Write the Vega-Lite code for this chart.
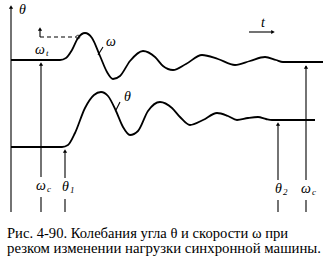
{
  "$schema": "https://vega.github.io/schema/vega-lite/v6.json",
  "width": 329,
  "height": 262,
  "padding": 0,
  "autosize": {"type": "fit", "contains": "padding"},
  "background": "white",
  "config": {"view": {"stroke": null}},
  "datasets": {
    "omega": [
      {"x": 11, "y": 60}, {"x": 60, "y": 60}, {"x": 66, "y": 58}, {"x": 72, "y": 50}, {"x": 78, "y": 38},
      {"x": 85, "y": 33}, {"x": 92, "y": 38}, {"x": 100, "y": 56}, {"x": 107, "y": 72}, {"x": 113, "y": 79},
      {"x": 120, "y": 76}, {"x": 130, "y": 61}, {"x": 143, "y": 51}, {"x": 155, "y": 57}, {"x": 163, "y": 66},
      {"x": 173, "y": 70}, {"x": 186, "y": 64}, {"x": 202, "y": 55}, {"x": 218, "y": 59}, {"x": 235, "y": 65},
      {"x": 250, "y": 61}, {"x": 265, "y": 57}, {"x": 276, "y": 60}, {"x": 283, "y": 62}, {"x": 323, "y": 62}
    ],
    "theta": [
      {"x": 11, "y": 147}, {"x": 62, "y": 147}, {"x": 68, "y": 145}, {"x": 75, "y": 133}, {"x": 85, "y": 108},
      {"x": 94, "y": 95}, {"x": 101, "y": 92}, {"x": 108, "y": 96}, {"x": 116, "y": 111}, {"x": 123, "y": 127},
      {"x": 130, "y": 135}, {"x": 138, "y": 131}, {"x": 148, "y": 111}, {"x": 160, "y": 102}, {"x": 172, "y": 108},
      {"x": 180, "y": 117}, {"x": 190, "y": 125}, {"x": 203, "y": 120}, {"x": 217, "y": 113}, {"x": 228, "y": 116},
      {"x": 237, "y": 120}, {"x": 248, "y": 118}, {"x": 258, "y": 117}, {"x": 266, "y": 119}, {"x": 272, "y": 120},
      {"x": 315, "y": 120}
    ],
    "rules": [
      {"x": 11, "x2": 11, "y": 8, "y2": 212, "w": "axis"},
      {"x": 41, "x2": 41, "y": 64, "y2": 177, "w": "ref"},
      {"x": 41, "x2": 41, "y": 197, "y2": 212, "w": "ref"},
      {"x": 65, "x2": 65, "y": 152, "y2": 178, "w": "ref"},
      {"x": 65, "x2": 65, "y": 199, "y2": 212, "w": "ref"},
      {"x": 278, "x2": 278, "y": 124, "y2": 180, "w": "ref"},
      {"x": 278, "x2": 278, "y": 200, "y2": 212, "w": "ref"},
      {"x": 306, "x2": 306, "y": 66, "y2": 180, "w": "ref"},
      {"x": 306, "x2": 306, "y": 200, "y2": 212, "w": "ref"},
      {"x": 40, "x2": 40, "y": 29, "y2": 37, "w": "ref"},
      {"x": 249, "x2": 272, "y": 32, "y2": 32, "w": "ref"},
      {"x": 103, "x2": 98, "y": 47, "y2": 55, "w": "ref"},
      {"x": 120, "x2": 116, "y": 102, "y2": 110, "w": "ref"}
    ],
    "heads": [
      {"x": 11, "y": 7, "dir": "up"},
      {"x": 41, "y": 64, "dir": "up"},
      {"x": 65, "y": 151, "dir": "up"},
      {"x": 278, "y": 124, "dir": "up"},
      {"x": 306, "y": 67, "dir": "up"},
      {"x": 40, "y": 29, "dir": "up"},
      {"x": 273, "y": 32, "dir": "right"}
    ],
    "dash": [{"x": 40, "y": 37}, {"x": 76, "y": 37}],
    "circle": [{"x": 78, "y": 37}],
    "labels": [
      {"x": 19, "y": 14, "t": "θ"},
      {"x": 35, "y": 54, "t": "ω"},
      {"x": 106, "y": 46, "t": "ω"},
      {"x": 124, "y": 101, "t": "θ"},
      {"x": 36, "y": 190, "t": "ω"},
      {"x": 62, "y": 191, "t": "θ"},
      {"x": 275, "y": 193, "t": "θ"},
      {"x": 301, "y": 193, "t": "ω"},
      {"x": 261, "y": 27, "t": "t"}
    ],
    "subs": [
      {"x": 46, "y": 56, "t": "t"},
      {"x": 47, "y": 192, "t": "c"},
      {"x": 70, "y": 193, "t": "1"},
      {"x": 283, "y": 195, "t": "2"},
      {"x": 312, "y": 195, "t": "c"}
    ],
    "cap1": [{"x": 7, "y": 238, "t": "Рис. 4-90. Колебания угла θ и  скорости ω при"}],
    "cap2": [{"x": 7, "y": 253, "t": "резком изменении нагрузки синхронной машины."}]
  },
  "encoding": {
    "x": {"field": "x", "type": "quantitative", "scale": {"domain": [0, 329]}, "axis": null},
    "y": {"field": "y", "type": "quantitative", "scale": {"domain": [262, 0]}, "axis": null}
  },
  "layer": [
    {"data": {"name": "omega"}, "mark": {"type": "line", "interpolate": "monotone", "color": "black", "strokeWidth": 1.8}},
    {"data": {"name": "theta"}, "mark": {"type": "line", "interpolate": "monotone", "color": "black", "strokeWidth": 1.8}},
    {"data": {"name": "dash"}, "mark": {"type": "line", "color": "black", "strokeWidth": 1.2, "strokeDash": [4, 3]}},
    {"data": {"name": "circle"}, "mark": {"type": "point", "color": "black", "size": 14, "strokeWidth": 1, "filled": false}},
    {"data": {"name": "rules"}, "mark": {"type": "rule", "color": "black", "strokeWidth": 1.1},
     "encoding": {"x2": {"field": "x2"}, "y2": {"field": "y2"}}},
    {"data": {"name": "heads"}, "transform": [{"filter": "datum.dir == 'up'"}], "mark": {"type": "point", "shape": "triangle-up", "filled": true, "color": "black", "size": 18, "opacity": 1}},
    {"data": {"name": "heads"}, "transform": [{"filter": "datum.dir == 'right'"}], "mark": {"type": "point", "shape": "triangle-right", "filled": true, "color": "black", "size": 18, "opacity": 1}},
    {"data": {"name": "labels"}, "mark": {"type": "text", "font": "Liberation Serif", "fontStyle": "italic", "fontSize": 14, "align": "left", "baseline": "alphabetic", "color": "black"},
     "encoding": {"text": {"field": "t"}}},
    {"data": {"name": "subs"}, "mark": {"type": "text", "font": "Liberation Serif", "fontStyle": "italic", "fontSize": 9, "align": "left", "baseline": "alphabetic", "color": "black"},
     "encoding": {"text": {"field": "t"}}},
    {"data": {"name": "cap1"}, "mark": {"type": "text", "font": "Liberation Serif", "fontSize": 14.6, "align": "left", "baseline": "alphabetic", "color": "black"},
     "encoding": {"text": {"field": "t"}}},
    {"data": {"name": "cap2"}, "mark": {"type": "text", "font": "Liberation Serif", "fontSize": 14.8, "align": "left", "baseline": "alphabetic", "color": "black"},
     "encoding": {"text": {"field": "t"}}}
  ]
}
